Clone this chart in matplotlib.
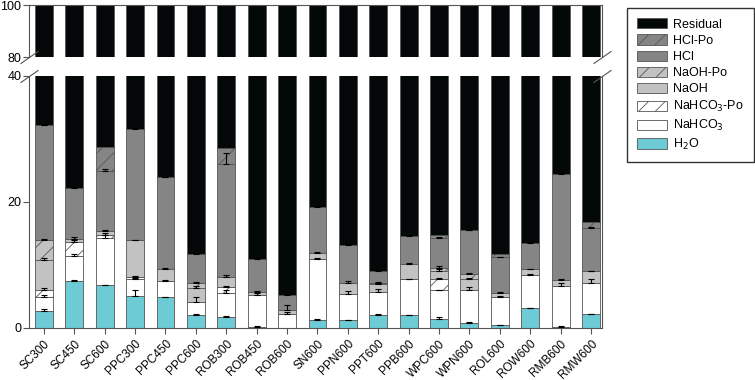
import numpy as np
import matplotlib
matplotlib.use('Agg')
import matplotlib.pyplot as plt
from matplotlib.patches import Patch

plt.rcParams['font.family'] = ['Liberation Sans', 'DejaVu Sans']
plt.rcParams['hatch.linewidth'] = 0.6

# Data (wt %), stacked bottom -> top
samples = ['SC300', 'SC450', 'SC600', 'PPC300', 'PPC450', 'PPC600', 'ROB300', 'ROB450',
           'ROB600', 'SN600', 'PPN600', 'PPT600', 'PPB600', 'WPC600', 'WPN600', 'ROL600',
           'ROW600', 'RMB600', 'RMW600']
h2o = [2.75, 7.4, 6.8, 5.1, 4.9, 2.0, 1.75, 0.15, 0.0, 1.3, 1.2, 2.1, 2.0, 1.5, 0.85, 0.4, 3.1, 0.2, 2.2]
nahco3 = [2.25, 4.1, 7.5, 2.6, 2.6, 2.1, 3.85, 5.05, 2.3, 9.7, 4.25, 3.6, 5.7, 4.5, 5.15, 4.5, 5.3, 6.4, 4.9]
nahco3_po = [1.0, 2.15, 0.5, 0.4, 0, 0, 0.9, 0, 0, 0, 0, 0, 0, 1.7, 0, 0, 0, 0, 0]
naoh = [4.85, 0.55, 0.6, 5.8, 1.9, 2.3, 1.6, 0.5, 0.5, 0.9, 1.65, 1.3, 2.4, 1.3, 1.7, 0.7, 0.9, 1.0, 1.9]
naoh_po = [3.05, 0, 0, 0, 0, 0.7, 0, 0, 0, 0, 0, 0.2, 0, 0.6, 0.8, 0, 0, 0, 0]
hcl = [18.3, 8.1, 9.5, 17.7, 14.5, 4.7, 18.0, 5.3, 2.5, 7.3, 6.1, 1.9, 4.5, 4.7, 7.0, 5.6, 4.2, 16.9, 6.9]
hcl_po = [0, 0, 3.9, 0, 0, 0, 2.5, 0, 0, 0, 0, 0, 0, 0.5, 0, 0.6, 0, 0, 0.9]

# error bars (upper side only)
h2o_err = [0.2, 0.2, 0.1, 1.0, 0.1, 0.2, 0.2, 0.1, 0, 0.1, 0.1, 0.1, 0.1, 0.3, 0.1, 0.1, 0.1, 0.1, 0.1]
nahco3_err = [0.3, 0.2, 0.4, 0.3, 0.15, 0.9, 0.5, 0.4, 0.2, 0.1, 0.5, 0.5, 0.1, 0.1, 0.5, 0.2, 0.1, 0.5, 0.7]
nahco3_po_err = [0.3, 0.3, 0.3, 0.1, 0, 0, 0.2, 0, 0, 0, 0, 0, 0, 0.3, 0, 0, 0, 0, 0]
naoh_err = [0.3, 0.2, 0.2, 0.1, 0.1, 0.3, 0.3, 0.1, 0.8, 0.2, 0.3, 0.2, 0.2, 0.3, 0.3, 0.1, 0.1, 0.1, 0.1]
naoh_po_err = [0.2, 0, 0, 0, 0, 0.2, 0, 0, 0, 0, 0, 0.1, 0, 0.2, 0.2, 0, 0, 0, 0]
hcl_err = [0.1, 0.1, 0.4, 0.1, 0.1, 0.1, 1.6, 0.1, 0.1, 0.1, 0.1, 0.1, 0.1, 0.1, 0.1, 0.1, 0.1, 0.1, 0.1]

stack = [
    ('H$_2$O', h2o, h2o_err, '#6dcbd6', ''),
    ('NaHCO$_3$', nahco3, nahco3_err, 'white', ''),
    ('NaHCO$_3$-Po', nahco3_po, nahco3_po_err, 'white', '//'),
    ('NaOH', naoh, naoh_err, '#c2c2c2', ''),
    ('NaOH-Po', naoh_po, naoh_po_err, '#c2c2c2', '//'),
    ('HCl', hcl, hcl_err, '#858585', ''),
    ('HCl-Po', hcl_po, None, '#858585', '//'),
]

x = np.arange(len(samples))
width = 0.59
edge = '#555555'

fig = plt.figure(figsize=(7.55, 3.8), dpi=100)
ax_top = fig.add_axes([29 / 755, 1 - 57 / 380, 573 / 755, 52 / 380])
ax_bot = fig.add_axes([29 / 755, 1 - 328 / 380, 573 / 755, 252 / 380])

handles = []
for ax in (ax_top, ax_bot):
    bottom = np.zeros(len(samples))
    for name, vals, err, color, hatch in stack:
        vals = np.array(vals, dtype=float)
        ax.bar(x, vals, width, bottom=bottom, color=color, edgecolor=edge,
               linewidth=0.6, hatch=hatch, zorder=2)
        if err is not None:
            err = np.array(err, dtype=float)
            m = err > 0
            ax.errorbar(x[m], (bottom + vals)[m], yerr=[np.zeros(m.sum()), err[m]],
                        fmt='none', ecolor='black', elinewidth=0.8, capsize=2.5,
                        capthick=0.8, zorder=3)
        bottom = bottom + vals
    residual = 100 - bottom
    ax.bar(x, residual, width, bottom=bottom, color='#050808', edgecolor=edge,
           linewidth=0.6, zorder=2)

for name, vals, err, color, hatch in stack:
    handles.append(Patch(facecolor=color, edgecolor=edge, hatch=hatch, linewidth=0.6, label=name))
handles.append(Patch(facecolor='#050808', edgecolor=edge, linewidth=0.6, label='Residual'))

for ax in (ax_top, ax_bot):
    ax.set_xlim(-0.49, 18.36)
    for s in ax.spines.values():
        s.set_color(edge)
        s.set_linewidth(0.8)
    ax.tick_params(axis='y', labelsize=9, length=4, width=0.8, color=edge, pad=1.5)

ax_top.set_ylim(80, 100)
ax_top.set_yticks([80, 100])
ax_top.spines['bottom'].set_visible(False)
ax_top.set_xticks([])

ax_bot.set_ylim(0, 40)
ax_bot.set_yticks([0, 20, 40])
ax_bot.spines['top'].set_visible(False)
ax_bot.set_xticks(x)
ax_bot.set_xticklabels(samples, rotation=45, ha='right', rotation_mode='anchor', fontsize=8.5)
ax_bot.tick_params(axis='x', length=4, width=0.8, color=edge, pad=3)

# break marks
kw = dict(marker=[(-1, -0.7), (1, 0.7)], markersize=13, linestyle='none',
          color=edge, mec=edge, mew=0.8, clip_on=False)
ax_top.plot([0, 1], [0, 0], transform=ax_top.transAxes, **kw)
ax_bot.plot([0, 1], [1, 1], transform=ax_bot.transAxes, **kw)

leg = fig.legend(handles=handles[::-1], loc='upper left', bbox_to_anchor=(627 / 755, 1 - 8 / 380),
                 fontsize=9, frameon=True, fancybox=False, edgecolor='black',
                 handlelength=2.4, handleheight=0.9, labelspacing=0.3, borderpad=0.8,
                 handletextpad=0.5, borderaxespad=0)
leg.get_frame().set_linewidth(1.0)

fig.savefig('out.png', dpi=100)
